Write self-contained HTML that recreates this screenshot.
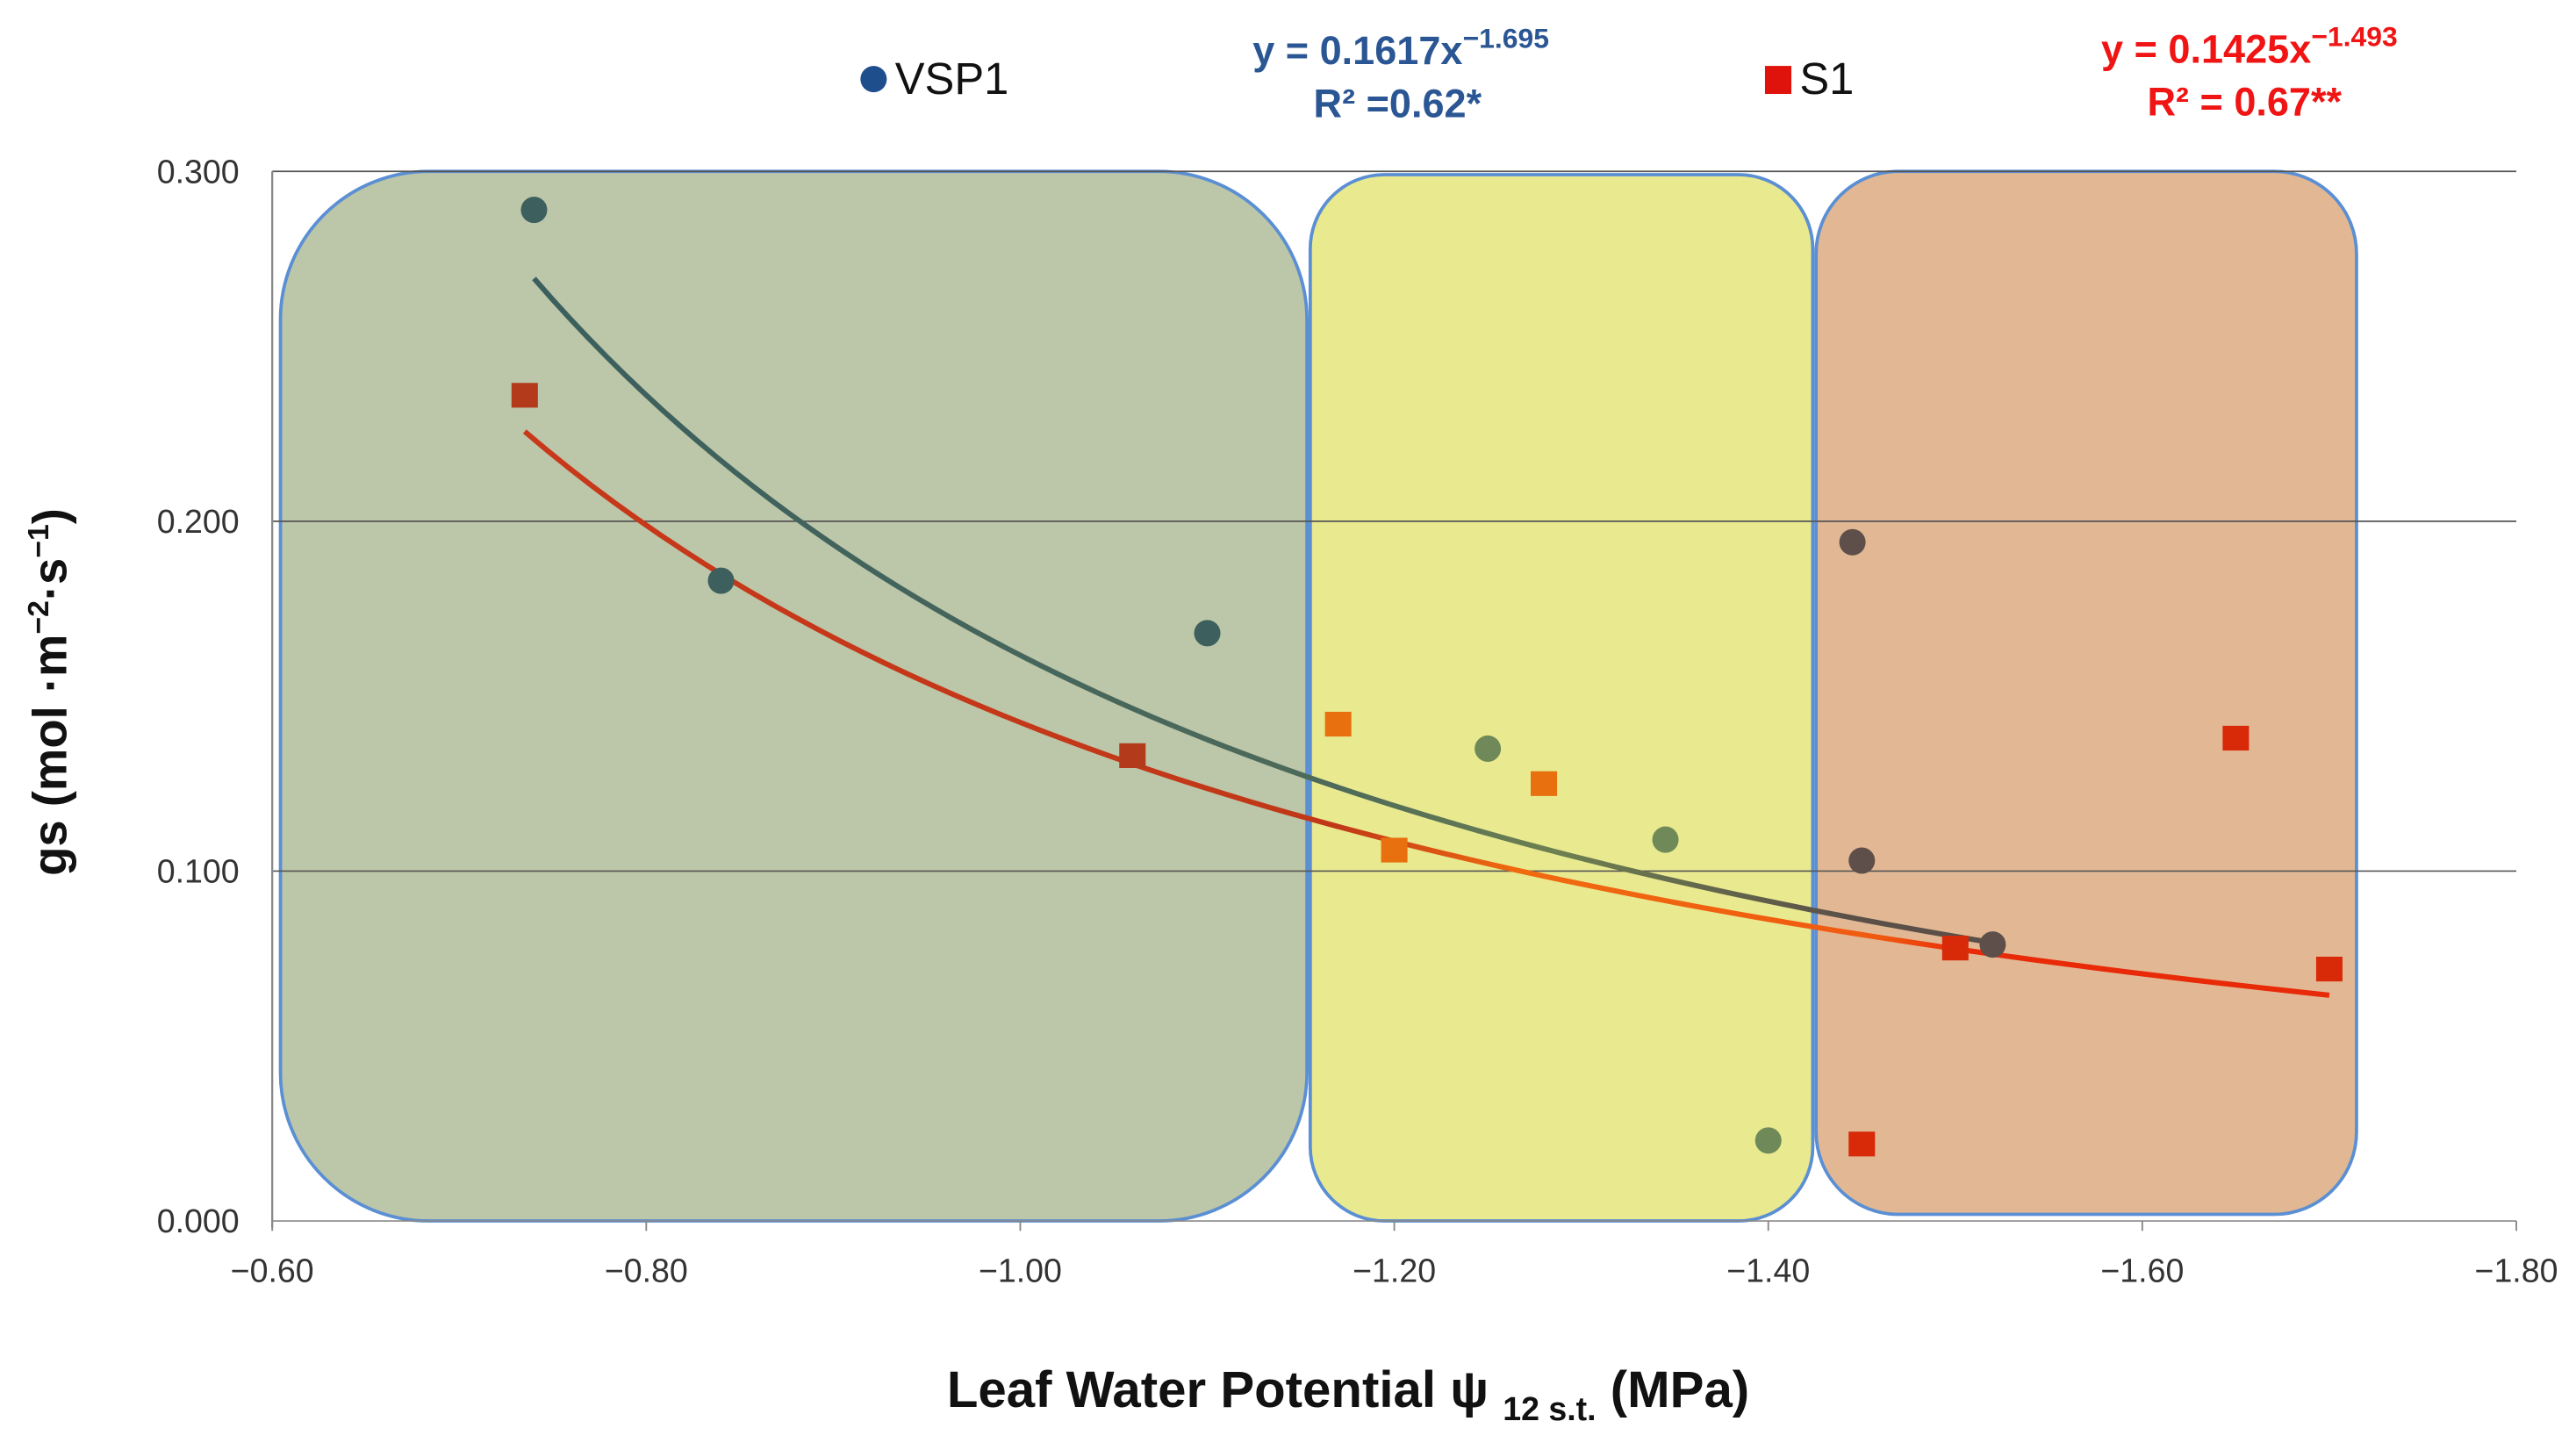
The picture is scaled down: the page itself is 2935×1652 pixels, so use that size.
<!DOCTYPE html>
<html><head><meta charset="utf-8">
<style>
html,body{margin:0;padding:0;background:#fff;}
svg{display:block;}
text{font-family:"Liberation Sans",sans-serif;}
</style></head>
<body>
<svg id="chart" width="2935" height="1652" viewBox="0 0 1563 880" xmlns="http://www.w3.org/2000/svg">
  <defs>
    <linearGradient id="vspGrad" x1="0" x2="1" y1="0" y2="0">
      <stop offset="0" stop-color="#3b5f5e"/><stop offset="0.55" stop-color="#4d6a5a"/>
      <stop offset="0.7" stop-color="#6d8050"/><stop offset="0.9" stop-color="#5a5048"/><stop offset="1" stop-color="#5a5048"/>
    </linearGradient>
    <linearGradient id="s1Grad" x1="0" x2="1" y1="0" y2="0">
      <stop offset="0" stop-color="#c8381a"/><stop offset="0.45" stop-color="#c03818"/>
      <stop offset="0.55" stop-color="#f06a10"/><stop offset="0.75" stop-color="#f05a10"/><stop offset="0.8" stop-color="#e82a08"/><stop offset="1" stop-color="#e82a08"/>
    </linearGradient>
  </defs>
  <g id="regions"></g>
  <g id="grid"></g>
  <g id="lines"></g>
  <g id="marks"></g>
  <g id="axes"></g>

  <text transform="translate(40,420) rotate(-90)" text-anchor="middle" font-size="29" font-weight="bold" fill="#111">gs (mol ·m<tspan font-size="18" dy="-11">−2</tspan><tspan dy="11">·s</tspan><tspan font-size="18" dy="-11">−1</tspan><tspan dy="11">)</tspan></text>
  <text x="818" y="854" text-anchor="middle" font-size="31" font-weight="bold" fill="#111">Leaf Water Potential  ψ <tspan font-size="20" dy="8">12 s.t.</tspan><tspan dy="-8"> (MPa)</tspan></text>

  <g>
    <circle cx="530" cy="48" r="8" fill="#1f4e8c"/>
    <text x="543" y="57" font-size="27" fill="#111">VSP1</text>
  </g>
  <g>
    <rect x="1071" y="40" width="16" height="17" fill="#e0120c"/>
    <text x="1092" y="57" font-size="27" fill="#111">S1</text>
  </g>
  <g fill="#2b5694" font-weight="bold" font-size="24" text-anchor="middle">
    <text x="850" y="39">y = 0.1617x<tspan font-size="17" dy="-10">−1.695</tspan></text>
    <text x="848" y="71">R² =0.62*</text>
  </g>
  <g fill="#f01414" font-weight="bold" font-size="24" text-anchor="middle">
    <text x="1365" y="38">y = 0.1425x<tspan font-size="17" dy="-10">−1.493</tspan></text>
    <text x="1362" y="70">R² = 0.67**</text>
  </g>
</svg>
<script>
const xTicks = [-0.6, -0.8, -1.0, -1.2, -1.4, -1.6, -1.8];
const xTickLabels = ["−0.60","−0.80","−1.00","−1.20","−1.40","−1.60","−1.80"];
const yTicks = [0, 0.1, 0.2, 0.3];
const yTickLabels = ["0.000","0.100","0.200","0.300"];
const vspX = [-0.74, -0.84, -1.10, -1.25, -1.345, -1.40, -1.445, -1.45, -1.52];
const vspY = [0.289, 0.183, 0.168, 0.135, 0.109, 0.023, 0.194, 0.103, 0.079];
const s1X = [-0.735, -1.06, -1.17, -1.20, -1.28, -1.45, -1.50, -1.65, -1.70];
const s1Y = [0.236, 0.133, 0.142, 0.106, 0.125, 0.022, 0.078, 0.138, 0.072];
const vspFit = [0.1617, -1.695, -0.74, -1.52];
const s1Fit = [0.1425, -1.493, -0.735, -1.70];

const NS = "http://www.w3.org/2000/svg";
const X = v => 165 + (v + 0.6) / (-1.2) * 1362;
const Y = v => 741 - v / 0.3 * 637;
function mk(tag, attrs, parent){const e=document.createElementNS(NS,tag);for(const k in attrs)e.setAttribute(k,attrs[k]);document.getElementById(parent).appendChild(e);return e;}

// regions
const regs=[["green-zone",170,104,623,637,90,"#bcc6a8"],["yellow-zone",795,106,305,635,45,"#e9e98f"],["orange-zone",1102,104,328,633,50,"#e2b894"]];
regs.forEach(r=>{const e=mk("rect",{x:r[1],y:r[2],width:r[3],height:r[4],rx:r[5],ry:r[5],fill:r[6],stroke:"#5b8fd4","stroke-width":2},"regions");

});

// grid
yTicks.forEach((t,i)=>{
  const g=mk("line",{x1:165,x2:1527,y1:Y(t),y2:Y(t),stroke:i===0?"#888":"#555","stroke-width":0.9},"grid");
  
  
  const tl=mk("text",{x:145,y:Y(t)+7,"text-anchor":"end","font-size":20,fill:"#333"},"axes");
  tl.textContent=yTickLabels[i];
  
  
});
const ya=mk("line",{x1:165,x2:165,y1:104,y2:745,stroke:"#888","stroke-width":1.2},"axes");


xTicks.forEach((t,i)=>{
  const tk=mk("line",{x1:X(t),x2:X(t),y1:741,y2:747,stroke:"#888","stroke-width":1},"axes");
  
  
  const tl=mk("text",{x:X(t),y:778,"text-anchor":"middle","font-size":20,fill:"#333"},"axes");
  tl.textContent=xTickLabels[i];
  
  
});

// trend lines
function fitPath(f){let d="";const n=80;for(let i=0;i<=n;i++){const x=f[2]+(f[3]-f[2])*i/n;const y=f[0]*Math.pow(Math.abs(x),f[1]);d+=(i?"L":"M")+X(x).toFixed(2)+","+Y(y).toFixed(2);}return d;}
const lv=mk("path",{d:fitPath(vspFit),fill:"none",stroke:"url(#vspGrad)","stroke-width":3.2},"lines");


const ls=mk("path",{d:fitPath(s1Fit),fill:"none",stroke:"url(#s1Grad)","stroke-width":3.2},"lines");



function zoneColor(x,cols){return x>-1.155?cols[0]:(x>-1.425?cols[1]:cols[2]);}
vspX.forEach((x,i)=>{
  const c=mk("circle",{cx:X(x),cy:Y(vspY[i]),r:8,fill:zoneColor(x,["#3d5f5e","#6f8a58","#5e4f4a"])},"marks");
  
  
});
s1X.forEach((x,i)=>{
  const r=mk("rect",{x:X(x)-8,y:Y(s1Y[i])-7.5,width:16,height:15,fill:zoneColor(x,["#b33a1a","#e8700e","#d82a08"])},"marks");
  
  
});
</script>
</body></html>
